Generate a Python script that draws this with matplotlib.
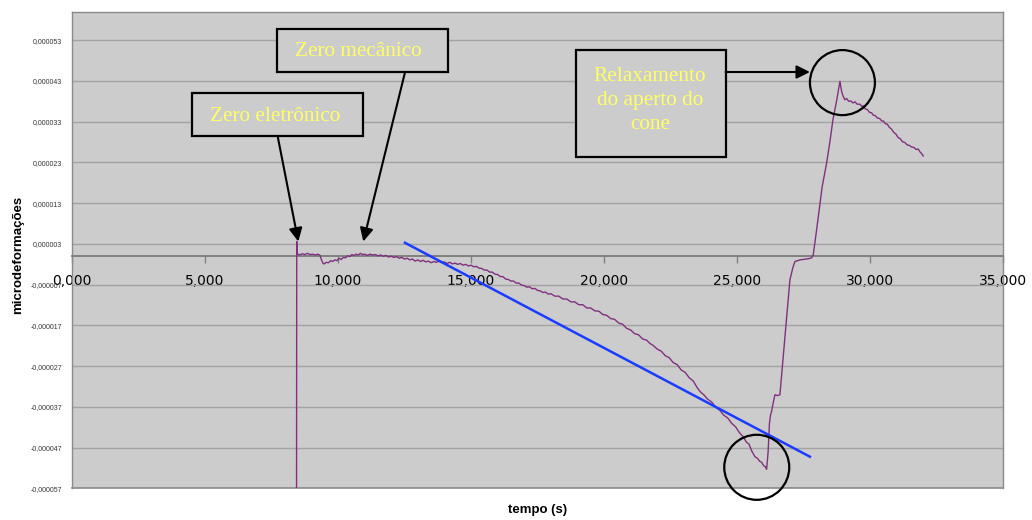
import numpy as np
import matplotlib
matplotlib.use("Agg")
import matplotlib.pyplot as plt
from matplotlib.patches import Rectangle, Ellipse

# ---- measured strain signal (time in s, strain in micro-units) ----
tempo = [8440, 8448, 8470, 8550, 8650, 8750, 8850, 8950, 9050, 9150, 9250, 9320,
         9380, 9430, 9480, 9560, 9640, 9720, 9800, 9880, 9960, 10040, 10120,
         10200, 10280, 10360, 10440, 10520, 10600, 10680, 10760, 10840, 10920,
         11000, 11100, 11200, 11300, 11400, 11500, 11600, 11700, 11800, 11900,
         12000, 12100, 12200, 12300, 12400, 12500, 12600, 12700, 12800, 12900,
         13000, 13100, 13200, 13300, 13400, 13500, 13600, 13700, 13800, 13900,
         14000, 14100, 14200, 14300, 14400, 14500, 14600, 14700, 14800, 14900,
         15000, 15100, 15200, 15300, 15400, 15500, 15600, 15700, 15800, 15900,
         16000, 16100, 16200, 16300, 16400, 16500, 16600, 16700, 16800, 16900,
         17000, 17100, 17200, 17300, 17400, 17500, 17600, 17700, 17800, 17900,
         18000, 18150, 18300, 18450, 18600, 18750, 18900, 19050, 19200, 19350,
         19500, 19650, 19810, 19950, 20100, 20250, 20400, 20550, 20700, 20850,
         21000, 21150, 21300, 21450, 21600, 21727, 21850, 22000, 22150, 22300,
         22450, 22600, 22750, 22900, 23050, 23200, 23350, 23500, 23610, 23750,
         23900, 24050, 24200, 24350, 24500, 24650, 24800, 24950, 25100, 25234,
         25350, 25450, 25560, 25674, 25770, 25850, 25930, 26000, 26060, 26113,
         26170, 26220, 26260, 26300, 26360, 26425, 26520, 26613, 26700, 26800,
         26900, 26989, 27100, 27177, 27280, 27365, 27480, 27600, 27700, 27805,
         27868, 27993, 28100, 28200, 28290, 28370, 28490, 28607, 28740, 28870,
         28930, 28994, 29050, 29120, 29200, 29280, 29360, 29434, 29520, 29622,
         29700, 29746, 29830, 29900, 29980, 30060, 30122, 30200, 30280, 30360,
         30440, 30497, 30580, 30650, 30730, 30810, 30890, 30970, 31060, 31140,
         31220, 31311, 31400, 31480, 31562, 31650, 31730, 31812, 31880, 31950,
         32000]
deformacao = [-62.0, 3.6, 0.6, 0.3, 0.6, 0.4, 0.7, 0.4, 0.5, 0.3, 0.5, 0.2,
              -0.9, -1.7, -1.9, -1.5, -1.6, -1.1, -1.3, -0.9, -1.1, -0.5, -0.8,
              -0.3, -0.4, 0.1, -0.1, 0.4, 0.2, 0.5, 0.3, 0.7, 0.4,
              0.5, 0.2, 0.5, 0.3, 0.4, 0.1, 0.3, 0.0, 0.2, -0.2,
              0.0, -0.3, -0.1, -0.5, -0.3, -0.7, -0.5, -0.9, -0.7, -1.2,
              -0.9, -1.3, -1.0, -1.4, -1.2, -1.6, -1.3, -1.5, -1.2, -1.6,
              -1.4, -1.8, -1.5, -1.9, -1.7, -2.0, -1.8, -2.2, -2.0, -2.4,
              -2.2, -2.6, -2.5, -2.9, -3.0, -3.4, -3.4, -3.9, -3.9, -4.4,
              -4.5, -5.0, -5.0, -5.6, -5.7, -6.1, -6.1, -6.6, -6.6, -7.1,
              -7.2, -7.6, -7.5, -8.0, -7.9, -8.4, -8.5, -8.9, -8.8, -9.3,
              -9.2, -9.8, -9.8, -10.5, -10.5, -11.2, -11.2, -11.9, -11.9, -12.7,
              -12.7, -13.4, -13.5, -14.3, -14.5, -15.3, -15.5, -16.4, -16.7, -17.7,
              -18.1, -19.0, -19.3, -20.3, -20.6, -21.4, -21.9, -22.8, -23.3, -24.4,
              -24.9, -26.1, -26.6, -27.9, -28.5, -29.8, -30.6, -32.2, -33.2, -34.0,
              -35.1, -35.8, -37.1, -37.8, -39.0, -39.7, -41.0, -41.9, -43.4, -44.3,
              -45.6, -46.1, -47.9, -49.2, -49.6, -50.3, -50.6, -51.4, -51.6, -52.3,
              -48.0, -41.0, -39.0, -38.1, -36.0, -34.0, -34.2, -34.0, -27.5, -20.0,
              -12.5, -5.8, -2.8, -1.3, -1.1, -0.9, -0.8, -0.7, -0.6, -0.4,
              0.4, 6.5, 12.0, 17.0, 20.2, 22.9, 28.0, 33.5, 38.0, 42.9,
              40.5, 39.2, 38.4, 38.7, 38.0, 38.1, 37.6, 37.9, 37.3, 37.3,
              36.7, 36.9, 36.1, 36.0, 35.3, 35.2, 34.6, 34.5, 33.9, 33.8,
              33.2, 33.2, 32.5, 32.4, 31.6, 31.2, 30.4, 30.0, 29.1, 28.8,
              28.1, 27.9, 27.3, 27.2, 26.8, 26.7, 26.2, 26.3, 25.6, 25.1,
              24.6]

# ---- trend line ----
trend_t = [12517, 27741]
trend_v = [3.3, -49.2]

# ---- axes ----
x_ticks = [0, 5000, 10000, 15000, 20000, 25000, 30000, 35000]
x_tick_labels = ["0,000", "5,000", "10,000", "15,000", "20,000", "25,000",
                 "30,000", "35,000"]
y_ticks = [-57, -47, -37, -27, -17, -7, 3, 13, 23, 33, 43, 53]
y_tick_labels = ["-0,000057", "-0,000047", "-0,000037", "-0,000027",
                 "-0,000017", "-0,000007", "0,000003", "0,000013",
                 "0,000023", "0,000033", "0,000043", "0,000053"]

fig = plt.figure(figsize=(10.32, 5.2), dpi=100)
fig.patch.set_facecolor("white")
ax = fig.add_axes([0.0698, 0.0606, 0.9021, 0.9169])
ax.set_facecolor("#CCCCCC")
ax.set_xlim(0, 35000)
ax.set_ylim(-57, 60)

sans = "Liberation Sans"
serif = "Liberation Serif"

# grid
ax.set_yticks(y_ticks)
ax.set_yticklabels(y_tick_labels, fontsize=5, color="#333333", family=sans)
ax.tick_params(axis="y", length=0, pad=7)
ax.yaxis.grid(True, color="#A3A3A3", lw=1.0)
ax.set_axisbelow(True)

# x axis crossing at zero
ax.set_xticks(x_ticks)
ax.set_xticklabels(x_tick_labels, fontsize=11, color="#222222", family=sans)
ax.tick_params(axis="x", direction="out", length=5, width=1, color="#808080", pad=7.5)
for s in ["left", "right", "top"]:
    ax.spines[s].set_color("#8A8A8A")
    ax.spines[s].set_linewidth(1.0)
ax.spines["bottom"].set_position(("data", 0))
ax.spines["bottom"].set_color("#7A7A7A")
ax.spines["bottom"].set_linewidth(1.3)
ax.plot([0, 1], [0, 0], transform=ax.transAxes, color="#8A8A8A", lw=1.2,
        clip_on=False, zorder=3)

# signal and trend
ax.plot(tempo, deformacao, color="#80307F", lw=1.0, zorder=4)
ax.plot(trend_t, trend_v, color="#1A3CFF", lw=1.8, zorder=5)

# axis titles
fig.text(18 / 1032, 1 - 255 / 520, "microdeformações", rotation=90,
         ha="center", va="center", fontsize=9.5, fontweight="bold", family=sans)
fig.text(538 / 1032, 1 - 510 / 520, "tempo (s)", ha="center", va="center",
         fontsize=9.5, fontweight="bold", family=sans)

# callout boxes
yellow = "#FFFF66"
boxes = [
    ((4511, 29.4), 10950 - 4511, 40.1 - 29.4),
    ((7717, 45.1), 14145 - 7717, 55.8 - 45.1),
    ((18934, 24.4), 24572 - 18934, 50.5 - 24.4),
]
for (x0, y0), w, h in boxes:
    ax.add_patch(Rectangle((x0, y0), w, h, facecolor="#CCCCCC",
                           edgecolor="black", lw=1.6, zorder=6))

ax.text(7650, 34.3, "Zero eletrônico", ha="center", va="center",
        fontsize=15.3, color=yellow, family=serif, zorder=7)
ax.text(10751, 50.3, "Zero mecânico", ha="center", va="center",
        fontsize=15.3, color=yellow, family=serif, zorder=7)
ax.text(21727, 38.2, "Relaxamento\ndo aperto do\ncone", ha="center",
        va="center", fontsize=15.3, color=yellow, family=serif,
        linespacing=1.38, zorder=7)

arrow = dict(arrowstyle="-|>", color="black", lw=1.5, mutation_scale=20,
             shrinkA=0, shrinkB=0)
ax.annotate("", xy=(8507, 3.6), xytext=(7732, 29.4), arrowprops=arrow,
            zorder=8, annotation_clip=False)
ax.annotate("", xy=(10950, 3.6), xytext=(12517, 45.1), arrowprops=arrow,
            zorder=8, annotation_clip=False)
ax.annotate("", xy=(27741, 45.2), xytext=(24572, 45.2), arrowprops=arrow,
            zorder=8, annotation_clip=False)

# highlight circles
for cx, cy in [(28963, 42.6), (25742, -51.8)]:
    ax.add_patch(Ellipse((cx, cy), 2443, 15.96, facecolor="none",
                         edgecolor="black", lw=1.6, zorder=8, clip_on=False))

fig.savefig("out.png", dpi=100)
